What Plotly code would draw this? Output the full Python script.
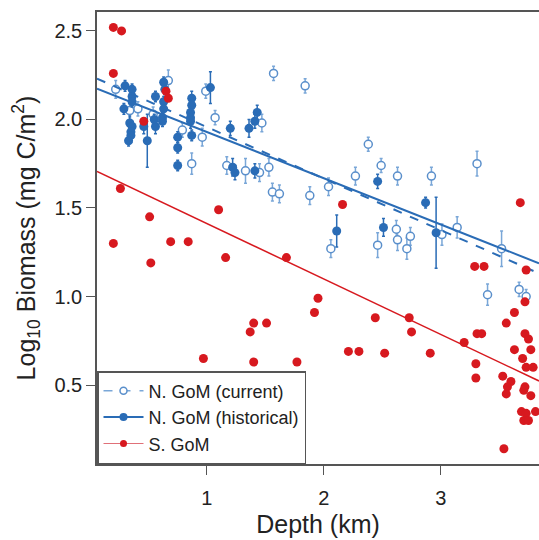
import plotly.graph_objects as go

# ---- Data (Depth km, log10 biomass) ----
hist_x = [0.30, 0.36, 0.36, 0.36, 0.34, 0.36, 0.35, 0.35, 0.46, 0.49, 0.56, 0.56, 0.55,
          0.63, 0.64, 0.63, 0.63, 0.62, 0.62, 0.87, 0.87, 0.86, 0.86, 0.86, 1.03, 0.75,
          0.75, 0.75, 0.87, 1.20, 1.22, 1.24, 1.43, 1.41, 1.36, 1.41, 2.11, 2.46, 2.87,
          2.51, 2.96, 0.29, 0.33]
hist_y = [2.19, 2.17, 2.13, 2.10, 1.98, 1.96, 1.93, 1.91, 1.96, 1.88, 2.13, 1.96, 2.00,
          2.21, 2.17, 2.10, 2.06, 2.01, 1.99, 2.12, 2.08, 2.04, 2.01, 1.99, 2.18, 1.90,
          1.84, 1.74, 1.91, 1.95, 1.73, 1.70, 2.04, 1.99, 1.95, 1.71, 1.37, 1.65, 1.53,
          1.39, 1.36, 2.06, 1.88]
hist_err = [0.03, 0.03, 0.03, 0.03, 0.04, 0.03, 0.03, 0.04, 0.04, 0.15, 0.03, 0.04, 0.03,
            0.03, 0.03, 0.03, 0.03, 0.03, 0.03, 0.04, 0.03, 0.03, 0.03, 0.04, 0.09, 0.03,
            0.03, 0.03, 0.03, 0.04, 0.05, 0.04, 0.04, 0.04, 0.05, 0.04, 0.09, 0.04, 0.03,
            0.05, 0.20, 0.03, 0.03]

curr_x = [0.22, 0.34, 0.41, 0.54, 0.67, 0.79, 0.87, 0.96, 0.99, 1.07, 1.17, 1.47, 1.33,
          1.45, 1.53, 1.57, 1.84, 2.38, 2.27, 2.49, 2.63, 2.92, 3.31, 1.56, 1.62, 1.88,
          2.04, 2.06, 2.46, 2.62, 2.63, 2.74, 2.71, 3.01, 3.14, 3.52, 3.40, 3.67, 3.73]
curr_y = [2.17, 2.05, 2.06, 2.03, 2.22, 1.94, 1.75, 1.90, 2.16, 2.01, 1.74, 1.98, 1.71,
          1.70, 1.73, 2.26, 2.19, 1.86, 1.68, 1.74, 1.68, 1.68, 1.75, 1.59, 1.58, 1.57,
          1.62, 1.27, 1.29, 1.38, 1.32, 1.34, 1.27, 1.35, 1.39, 1.27, 1.01, 1.04, 1.00]
curr_err = [0.05, 0.04, 0.04, 0.04, 0.06, 0.04, 0.06, 0.05, 0.04, 0.04, 0.05, 0.05, 0.07,
            0.05, 0.05, 0.04, 0.04, 0.04, 0.05, 0.04, 0.05, 0.05, 0.07, 0.05, 0.05, 0.05,
            0.05, 0.05, 0.07, 0.05, 0.06, 0.05, 0.06, 0.06, 0.06, 0.10, 0.06, 0.04, 0.04]

south_x = [0.20, 0.27, 0.20, 0.46, 0.65, 0.67, 0.26, 0.51, 0.20, 0.69, 0.84, 0.52, 1.10,
           1.16, 0.97, 1.68, 1.95, 1.92, 2.16, 1.40, 1.51, 1.37, 1.40, 1.77, 2.21, 2.30,
           2.44, 2.73, 2.75, 2.52, 2.91, 3.20, 3.29, 3.37, 3.68, 3.73, 3.72, 3.63, 3.56,
           3.31, 3.35, 3.72, 3.75, 3.63, 3.77, 3.30, 3.70, 3.73, 3.79, 3.30, 3.53, 3.60,
           3.57, 3.56, 3.72, 3.71, 3.77, 3.69, 3.73, 3.71, 3.75, 3.81, 3.54]
south_y = [2.52, 2.50, 2.26, 1.99, 2.16, 2.12, 1.61, 1.45, 1.30, 1.31, 1.31, 1.19, 1.49,
           1.22, 0.65, 1.22, 0.99, 0.91, 1.52, 0.85, 0.85, 0.80, 0.63, 0.63, 0.69, 0.69,
           0.88, 0.88, 0.80, 0.68, 0.68, 0.74, 1.17, 1.17, 1.53, 1.15, 0.97, 0.91, 0.85,
           0.79, 0.79, 0.79, 0.76, 0.70, 0.70, 0.62, 0.65, 0.60, 0.60, 0.54, 0.55, 0.52,
           0.49, 0.45, 0.49, 0.47, 0.44, 0.35, 0.34, 0.30, 0.30, 0.35, 0.14]

# regression fits (intercept, slope)
fit_curr = (2.248, -0.291)
fit_hist = (2.19, -0.261)
fit_south = (1.725, -0.313)

x_range = [0.06, 3.84]
y_range = [0.054, 2.607]

C_HIST = "#2a6cb6"
C_CURR = "#5a8fcb"
C_CURR_ERR = "#7aa7d8"
C_RED = "#d7191f"

def fit_line(f):
    xs = list(x_range)
    return xs, [f[0] + f[1] * v for v in xs]

fig = go.Figure()

fig.add_trace(go.Scatter(
    x=curr_x, y=curr_y, mode="markers", showlegend=False,
    marker=dict(symbol="circle", size=8, color="white", line=dict(color=C_CURR, width=1.5)),
    error_y=dict(type="data", array=curr_err, color=C_CURR_ERR, thickness=1.5, width=1.5)))

fig.add_trace(go.Scatter(
    x=hist_x, y=hist_y, mode="markers", showlegend=False,
    marker=dict(symbol="circle", size=9, color=C_HIST),
    error_y=dict(type="data", array=hist_err, color=C_HIST, thickness=1.5, width=1.5)))

lx, ly = fit_line(fit_curr)
fig.add_trace(go.Scatter(x=lx, y=ly, mode="lines", showlegend=False,
                         line=dict(color=C_HIST, width=2, dash="dash")))
lx, ly = fit_line(fit_hist)
fig.add_trace(go.Scatter(x=lx, y=ly, mode="lines", showlegend=False,
                         line=dict(color=C_HIST, width=2)))
lx, ly = fit_line(fit_south)
fig.add_trace(go.Scatter(x=lx, y=ly, mode="lines", showlegend=False,
                         line=dict(color=C_RED, width=1.5)))

fig.add_trace(go.Scatter(
    x=south_x, y=south_y, mode="markers", showlegend=False,
    marker=dict(symbol="circle", size=9, color=C_RED)))

# legend entries
fig.add_trace(go.Scatter(x=[None], y=[None], mode="lines+markers", name="N. GoM (current)",
                         line=dict(color=C_CURR_ERR, width=1.5, dash="dash"),
                         marker=dict(size=7, color="white", line=dict(color=C_CURR, width=1.5))))
fig.add_trace(go.Scatter(x=[None], y=[None], mode="lines+markers", name="N. GoM (historical)",
                         line=dict(color=C_HIST, width=2),
                         marker=dict(size=8, color=C_HIST)))
fig.add_trace(go.Scatter(x=[None], y=[None], mode="lines+markers", name="S. GoM",
                         line=dict(color="#e07078", width=1),
                         marker=dict(size=7, color=C_RED)))

fig.update_layout(
    width=539, height=540,
    margin=dict(l=97, r=0, t=12, b=76),
    paper_bgcolor="white", plot_bgcolor="white",
    font=dict(family="Liberation Sans, Arial, sans-serif", size=20, color="#222"),
    showlegend=True,
    legend=dict(x=0, y=0, xanchor="left", yanchor="bottom",
                bordercolor="#555", borderwidth=1.5, bgcolor="white",
                font=dict(size=18), tracegroupgap=0, itemwidth=40),
)
fig.update_xaxes(range=x_range, tickvals=[1, 2, 3], ticks="outside", ticklen=9,
                 tickcolor="#555", showline=True, linecolor="#555", linewidth=1.5,
                 mirror=True, showgrid=False, zeroline=False, automargin=False,
                 ticklabelstandoff=6,
                 title=dict(text="Depth (km)", font=dict(size=25), standoff=8))
fig.update_yaxes(range=y_range, tickvals=[0.5, 1.0, 1.5, 2.0, 2.5], ticktext=["0.5", "1.0", "1.5", "2.0", "2.5"],
                 ticks="outside", ticklen=9, tickcolor="#555",
                 showline=True, linecolor="#555", linewidth=1.5, mirror=False,
                 showgrid=False, zeroline=False, automargin=False,
                 title=dict(text="Log<sub>10</sub> Biomass (mg C/m<sup>2</sup>)", font=dict(size=25), standoff=12))

fig.write_html("out.html", config={"displayModeBar": False},
               post_script="document.body.style.margin='0';document.body.style.overflow='hidden';")
